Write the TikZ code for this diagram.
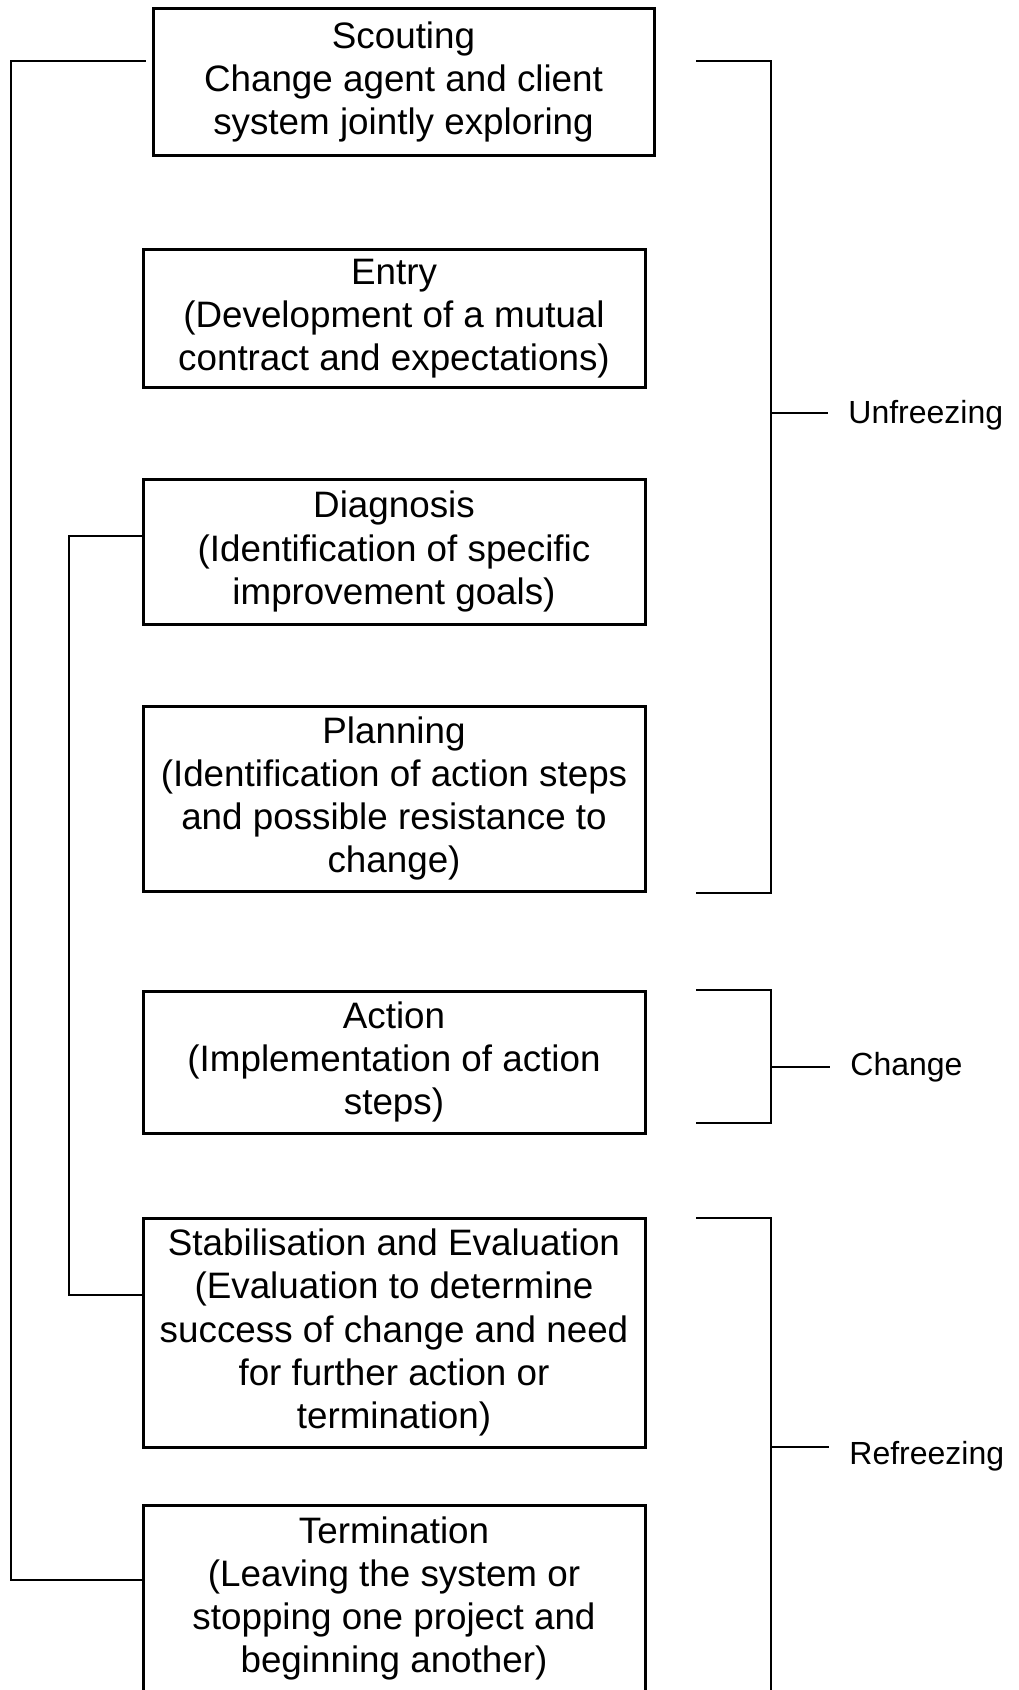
\documentclass[tikz,border=0pt]{standalone}
\usepackage{fontspec}
\setmainfont{Liberation Sans}
\begin{document}
\begin{tikzpicture}[x=0.5pt,y=-0.5pt,
  stage/.style={draw, line width=1.5pt, align=center, inner sep=0pt,
    font=\fontsize{18.4}{21.6}\selectfont},
  link/.style={line width=1.1pt},
  phase/.style={anchor=west, inner sep=0pt, font=\fontsize{16}{19}\selectfont}]
  \useasboundingbox (0,0) rectangle (1018,1690);
  \clip (0,0) rectangle (1018,1690);

  % stage boxes
  \node[stage, minimum width=250.5pt, minimum height=73.75pt] (scout) at (403.5,82)
    {Scouting\\Change agent and client\\system jointly exploring};
  \node[stage, minimum width=251pt, minimum height=68.5pt] (entry) at (394,318.5)
    {Entry\\(Development of a mutual\\contract and expectations)};
  \node[stage, minimum width=251pt, minimum height=72.5pt] (diag) at (394,551.5)
    {Diagnosis\\(Identification of specific\\improvement goals)};
  \node[stage, minimum width=251pt, minimum height=92.5pt] (plan) at (394,798.5)
    {Planning\\(Identification of action steps\\and possible resistance to\\change)};
  \node[stage, minimum width=251pt, minimum height=71pt] (act) at (394,1062)
    {Action\\(Implementation of action\\steps)};
  \node[stage, minimum width=251pt, minimum height=114.5pt] (stab) at (394,1332.5)
    {Stabilisation and Evaluation\\(Evaluation to determine\\success of change and need\\for further action or\\termination)};
  \node[stage, minimum width=251pt, minimum height=93.5pt] (term) at (394,1598.5)
    {Termination\\(Leaving the system or\\stopping one project and\\beginning another)};

  % left-hand loops
  \coordinate (outerx) at (11,0);
  \coordinate (innerx) at (69,0);
  \coordinate (yscout) at (0,61);
  \coordinate (yterm) at (0,1580);
  \coordinate (ydiag) at (0,536);
  \coordinate (ystab) at (0,1295);
  \draw[link, shorten <=3pt] (scout.west |- yscout) -| (outerx |- yterm) -- (term.west |- yterm);
  \draw[link] (diag.west |- ydiag) -| (innerx |- ystab) -- (stab.west |- ystab);

  % phase labels
  \node[phase] (unf) at (848,415) {Unfreezing};
  \node[phase] (chg) at (850,1067) {Change};
  \node[phase] (ref) at (849,1456) {Refreezing};

  % right-hand brackets
  \draw[link] (696,61) -| (771,893) -- (696,893);
  \draw[link, shorten >=10pt] (771,413) -- (unf.west |- 0,413);
  \draw[link] (696,990) -| (771,1123) -- (696,1123);
  \draw[link, shorten >=10pt] (771,1067) -- (chg.west);
  \draw[link] (696,1218) -| (771,1700);
  \draw[link, shorten >=10pt] (771,1447) -- (ref.west |- 0,1447);
\end{tikzpicture}
\end{document}
